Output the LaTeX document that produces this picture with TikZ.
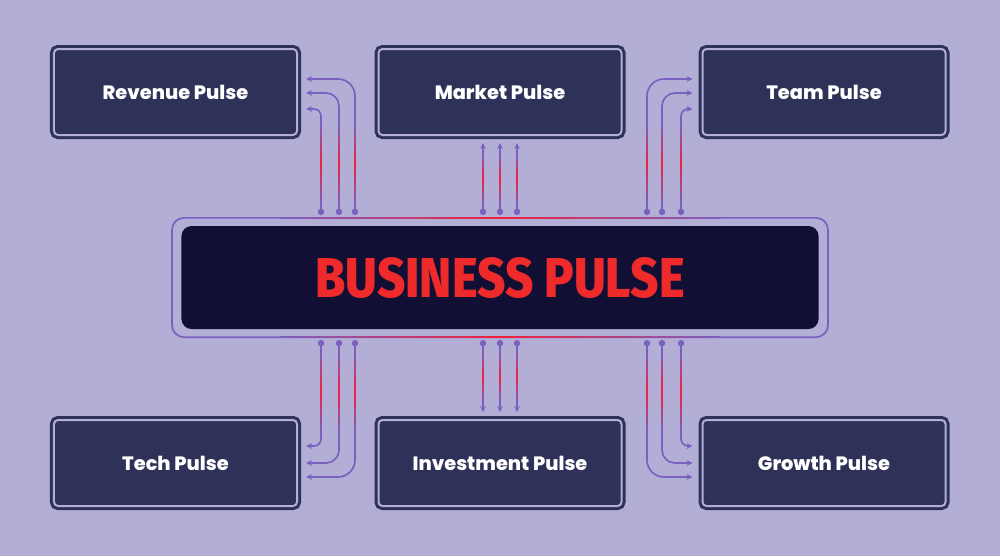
\documentclass[tikz,border=0pt]{standalone}
\usepackage{fontspec}
\usepackage{graphicx}
\usepackage{tikz}
\newfontfamily\labelfont{Poppins}[UprightFont=* ExtraBold]
\newfontfamily\titlefont{Fira Sans}[UprightFont=* ExtraBold]
\usetikzlibrary{positioning,calc,arrows.meta}

\definecolor{bg}{HTML}{B2AED6}
\definecolor{navy}{HTML}{2E3258}
\definecolor{core}{HTML}{110F34}
\definecolor{lnk}{HTML}{7B60C0}
\definecolor{hot}{HTML}{F2203C}
\definecolor{title}{HTML}{EE2A2A}

\tikzset{
    pulse/.style={draw=navy, fill=navy, double=bg, double distance=0.6mm, line width=0.9mm,
        rounded corners=1.2mm, minimum width=72.9mm, minimum height=25.8mm, outer sep=0pt,
        inner sep=0pt, text=white, font=\labelfont\fontsize{16.5}{20}\selectfont},
    link/.style={draw=lnk, line width=0.5mm,
        {Circle[length=1.9mm]}-{Stealth[length=1.8mm, width=1.7mm]}},
    glow/.style={top color=lnk, bottom color=lnk, middle color=hot},
    edgeglow/.style={left color=lnk, right color=lnk, middle color=hot},
}

\begin{document}
\begin{tikzpicture}[x=0.3mm, y=-0.3mm]
    \useasboundingbox[fill=bg] (0,0) rectangle (1000,556);

    % central hub
    \node[draw=lnk, line width=0.5mm, rounded corners=3.6mm, minimum width=196.8mm,
        minimum height=35.8mm, outer sep=0pt] (hub) at (500,277.5) {};
    \node[fill=core, rounded corners=3mm, minimum width=191.1mm, minimum height=30.9mm,
        text=title] (core) at (500,277.5)
        {\resizebox{110.7mm}{12mm}{\titlefont BUSINESS PULSE}};
    \shade[edgeglow] ($(hub.north)+(-220,-0.8)$) rectangle ($(hub.north)+(220,0.8)$);
    \shade[edgeglow] ($(hub.south)+(-220,-0.8)$) rectangle ($(hub.south)+(220,0.8)$);

    % pulse boxes
    \node[pulse] (rev) at (175.5,92) {Revenue Pulse};
    \node[pulse] (mar) at (500,92) {Market Pulse};
    \node[pulse] (team) at (824,92) {Team Pulse};
    \node[pulse] (tech) at (175.5,463) {Tech Pulse};
    \node[pulse] (inv) at (500,463) {Investment Pulse};
    \node[pulse] (grow) at (824,463) {Growth Pulse};

    % top links
    \foreach \x/\y/\r [count=\i] in {321/109/2.1mm, 339/93/3.9mm, 355/79/5.1mm} {
        \coordinate (tl\i) at (\x,215);
        \draw[link, rounded corners=\r] (tl\i) |- ($(rev.east |- 0,\y)+(9,0)$);
        \shade[glow] ($(tl\i)+(-0.8,-12)$) rectangle ($(tl\i)+(0.8,-90)$);
    }
    \foreach \x [count=\i] in {483, 500, 517} {
        \coordinate (tm\i) at (\x,215);
        \draw[link] (tm\i) -- ($(tm\i |- mar.south)+(0,8)$);
        \shade[glow] ($(tm\i)+(-0.8,-12)$) rectangle ($(tm\i)+(0.8,-60)$);
    }
    \foreach \x/\y/\r [count=\i] in {647/79/5.1mm, 662/93/3.9mm, 681/109/2.1mm} {
        \coordinate (tr\i) at (\x,215);
        \draw[link, rounded corners=\r] (tr\i) |- ($(team.west |- 0,\y)+(-10,0)$);
        \shade[glow] ($(tr\i)+(-0.8,-12)$) rectangle ($(tr\i)+(0.8,-90)$);
    }

    % bottom links
    \foreach \x/\y/\r [count=\i] in {321/446/2.1mm, 339/463/3.9mm, 355/477/5.1mm} {
        \coordinate (bl\i) at (\x,340);
        \draw[link, rounded corners=\r] (bl\i) |- ($(tech.east |- 0,\y)+(9,0)$);
        \shade[glow] ($(bl\i)+(-0.8,12)$) rectangle ($(bl\i)+(0.8,90)$);
    }
    \foreach \x [count=\i] in {483, 500, 517} {
        \coordinate (bm\i) at (\x,340);
        \draw[link] (bm\i) -- ($(bm\i |- inv.north)+(0,-8)$);
        \shade[glow] ($(bm\i)+(-0.8,12)$) rectangle ($(bm\i)+(0.8,60)$);
    }
    \foreach \x/\y/\r [count=\i] in {647/477/5.1mm, 662/463/3.9mm, 681/446/2.1mm} {
        \coordinate (br\i) at (\x,340);
        \draw[link, rounded corners=\r] (br\i) |- ($(grow.west |- 0,\y)+(-10,0)$);
        \shade[glow] ($(br\i)+(-0.8,12)$) rectangle ($(br\i)+(0.8,90)$);
    }
\end{tikzpicture}
\end{document}
